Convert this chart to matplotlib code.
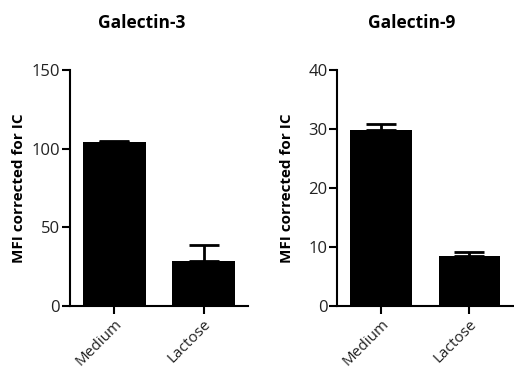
import numpy as np
import matplotlib.pyplot as plt

plt.rcParams['font.family'] = ['Open Sans', 'DejaVu Sans']

# Data
conditions = ["Medium", "Lactose"]
gal3_mean = [104.2, 28.8]
gal3_err = [0.8, 10.0]
gal9_mean = [29.9, 8.4]
gal9_err = [1.0, 0.7]

panels = [
    ("Galectin-3", gal3_mean, gal3_err, [0, 50, 100, 150], 150),
    ("Galectin-9", gal9_mean, gal9_err, [0, 10, 20, 30, 40], 40),
]

fig = plt.figure(figsize=(5.14, 3.70), dpi=100)
axes_pos = [[0.136, 0.173, 0.347, 0.638], [0.656, 0.173, 0.343, 0.638]]
title_x = [142 / 514, 412 / 514]
label_x = [-0.245, -0.245]

for i, (title, means, errs, yticks, ymax) in enumerate(panels):
    ax = fig.add_axes(axes_pos[i])
    x = np.arange(len(conditions))
    ax.bar(x, means, width=0.7, color="black", zorder=2)
    ax.errorbar(x, means, yerr=[np.zeros(len(errs)), errs], fmt="none",
                ecolor="black", elinewidth=2, capsize=11, capthick=2, zorder=1)
    ax.set_xlim(-0.5, 1.5)
    ax.set_ylim(0, ymax)
    ax.set_yticks(yticks)
    ax.set_xticks(x)
    ax.set_xticklabels(conditions, rotation=45, ha="right", rotation_mode="anchor",
                       fontsize=11, color="#222222")
    ax.tick_params(axis="y", labelsize=12, labelcolor="#222222", width=1.5,
                   length=5.5, direction="out", pad=1.5)
    ax.tick_params(axis="x", width=1.5, length=5.5, direction="out", pad=2)
    for side in ["top", "right"]:
        ax.spines[side].set_visible(False)
    for side in ["left", "bottom"]:
        ax.spines[side].set_linewidth(1.5)
    ax.set_ylabel("MFI corrected for IC", fontsize=11, fontweight="bold")
    ax.yaxis.set_label_coords(label_x[i], 0.5)
    fig.text(title_x[i], 1 - 23 / 370, title, ha="center", va="center",
             fontsize=12.5, fontweight="bold")

plt.savefig("out.png", dpi=100)
